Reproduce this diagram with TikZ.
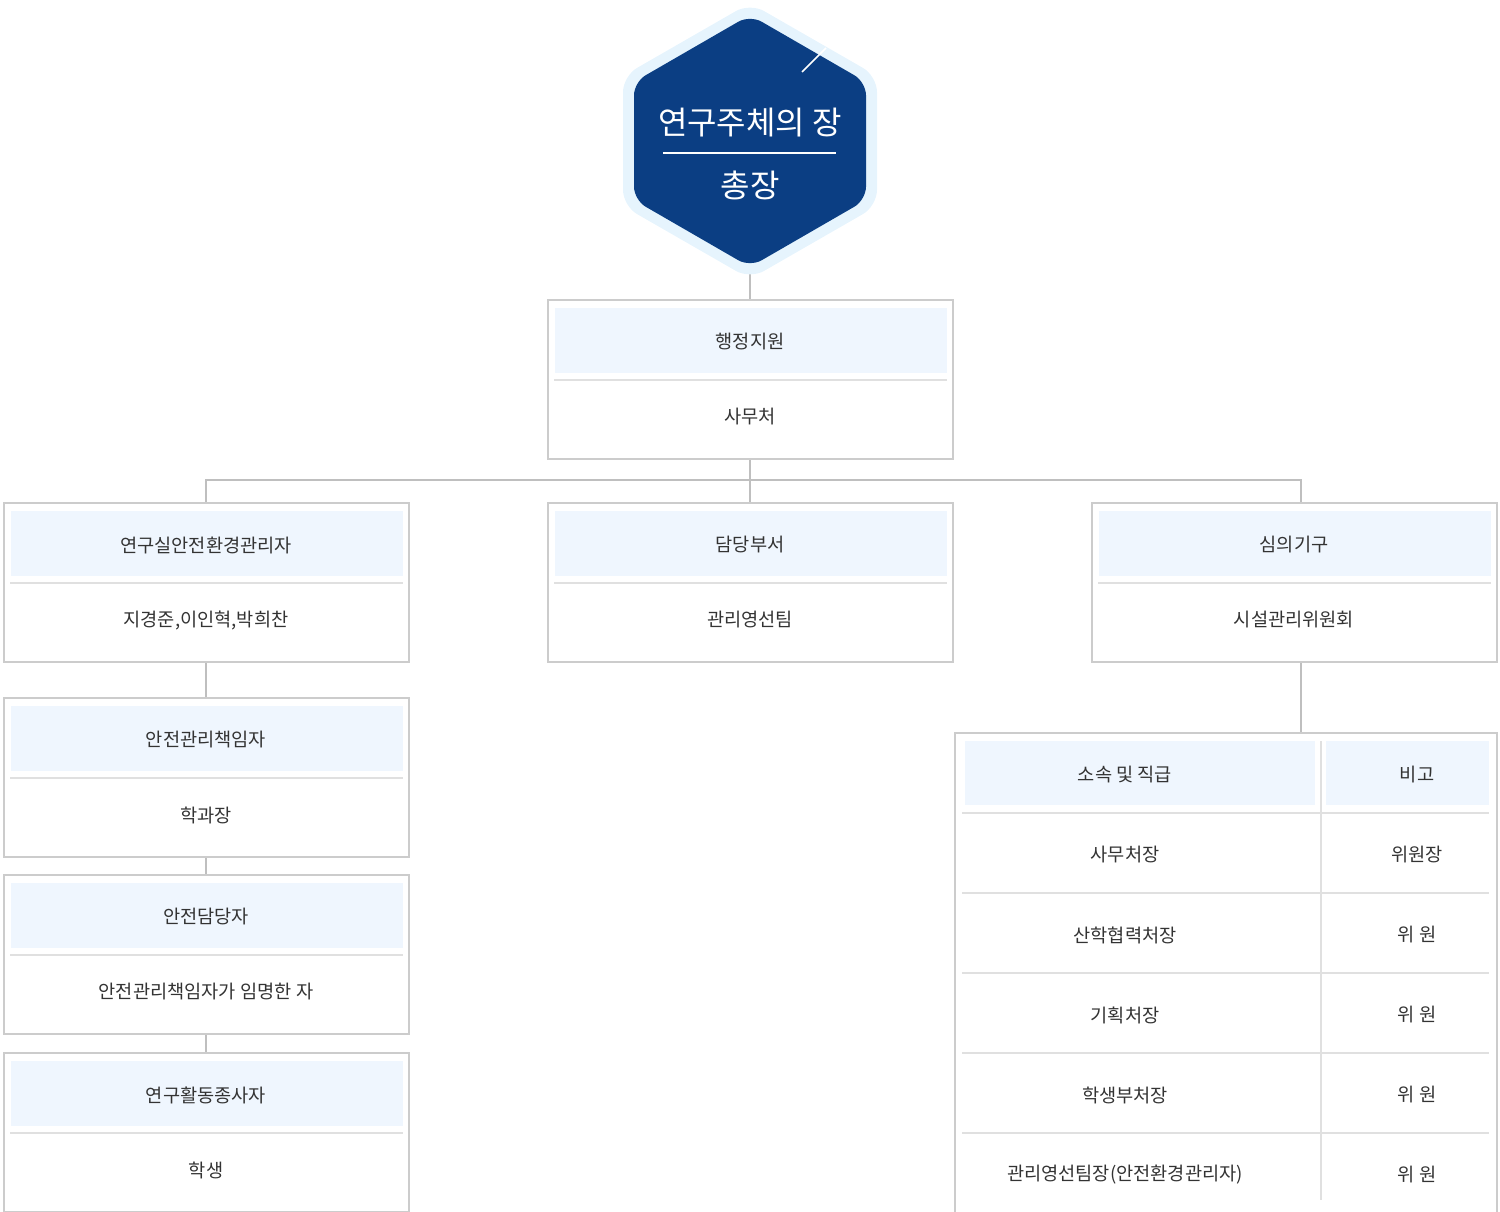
\documentclass[tikz,border=0pt]{standalone}
\usepackage{fontspec}
\setmainfont{Noto Sans CJK KR}[Scale=1]
\begin{document}
\begin{tikzpicture}[x=0.75pt,y=-0.75pt,
  frame/.style={draw=black!20,line width=1.2pt},
  hdr/.style={fill=hfill,draw=none},
  sep/.style={draw=black!12,line width=0.9pt},
  conn/.style={draw=black!25,line width=1.2pt},
  txt/.style={font=\fontsize{14}{16}\selectfont,text=black!80,inner sep=0pt},
]
\definecolor{hfill}{HTML}{EFF6FE}
\definecolor{navy}{HTML}{0B3E83}
\definecolor{halo}{HTML}{E6F4FD}
\useasboundingbox (0,0) rectangle (1500,1212);
% connectors
\coordinate (hb) at (750,267);
\coordinate (j) at (750,480);
\draw[conn] (750,267) -- (750,300);
\draw[conn] (750,459) -- (750,503);
\draw[conn] (206,503) -- (206,480) -- (1301,480) -- (1301,503);
\draw[conn] (206,662) -- (206,698);
\draw[conn] (206,857) -- (206,875);
\draw[conn] (206,1034) -- (206,1053);
\draw[conn] (1301,662) -- (1301,733);
% hexagon
\fill[halo,rounded corners=12pt] (750,3)--(877,76)--(877,206)--(750,279)--(623,206)--(623,76)--cycle;
\fill[navy,rounded corners=10pt] (750,15)--(866,82)--(866,200)--(750,267)--(634,200)--(634,82)--cycle;
\draw[white,line width=1.3pt] (802,72)--(826,48);
\draw[white,line width=1.3pt] (663,153)--(836,153);
\node[text=white,font=\fontsize{24}{26}\selectfont,inner sep=0pt] (h1) at (750,123) {연구주체의 장};
\node[text=white,font=\fontsize{24}{26}\selectfont,inner sep=0pt] (h2) at (750,185) {총장};
% box macro-like
\foreach \x/\y/\a/\b/\n in {548/300/행정지원/사무처/b0, 4/503/연구실안전환경관리자/{지경준,이인혁,박희찬}/b1, 548/503/담당부서/관리영선팀/b2, 1092/503/심의기구/시설관리위원회/b3, 4/698/안전관리책임자/학과장 / 담당교수/b4, 4/875/안전담당자/안전관리책임자가 임명한 자/b5, 4/1053/연구활동종사자/학생/b6}{
  \fill[hdr] (\x+7,\y+8) rectangle (\x+399,\y+73);
  \draw[sep] (\x+6,\y+80) -- (\x+399,\y+80);
  \draw[frame] (\x,\y) rectangle (\x+405,\y+159);
  \node[txt] (\n a) at (\x+202,\y+42) {\a};
  \node[txt] (\n b) at (\x+202,\y+117) {\b};
}
% table
\fill[hdr] (965,741) rectangle (1315,805);
\fill[hdr] (1326,741) rectangle (1489,805);
\draw[frame] (955,1212) -- (955,733) -- (1497,733) -- (1497,1212);
\foreach \y in {813,893,973,1053,1133} \draw[sep] (962,\y) -- (1489,\y);
\draw[sep] (1321,741) -- (1321,1200);
\node[txt] (t0a) at (1125,775) {소속 및 직급};
\node[txt] (t0b) at (1417,775) {비고};
\foreach \y/\a/\b/\n in {855/사무처장/위원장/t1, 935/산학협력처장/위 원/t2, 1015/기획처장/위 원/t3, 1095/학생부처장/위 원/t4, 1175/관리영선팀장(안전환경관리자)/위 원/t5}{
  \node[txt] (\n a) at (1125,\y) {\a};
  \node[txt] (\n b) at (1417,\y) {\b};
}
\end{tikzpicture}
\end{document}
